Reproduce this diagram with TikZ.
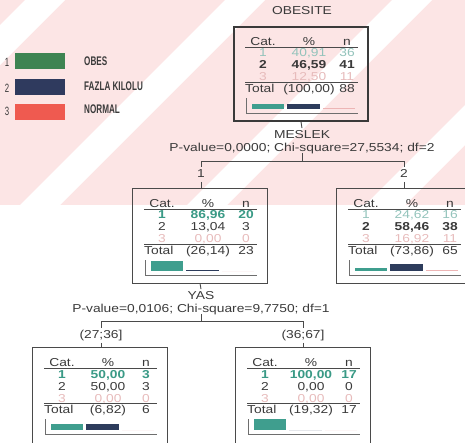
\documentclass[tikz,border=0pt]{standalone}
\usepackage{fontspec}
\setmainfont{Liberation Sans}
\newfontfamily\dfont[FakeStretch=1.2]{Liberation Sans}
\newfontfamily\nfont[FakeStretch=0.65]{Liberation Sans}
\usetikzlibrary{calc}
\definecolor{wmpink}{HTML}{FCE5E5}
\definecolor{tealbar}{HTML}{3F9E8E}
\definecolor{navybar}{HTML}{2D3C5C}
\definecolor{pinkbar}{HTML}{EDB5B5}
\definecolor{tealtxt}{HTML}{3A9A86}
\definecolor{teallt}{HTML}{93C3BB}
\definecolor{pinktxt}{HTML}{E7BBBB}
\definecolor{inkc}{HTML}{3A3A3A}
\definecolor{linec}{HTML}{4A4A4A}
\definecolor{leggreen}{HTML}{3E8452}
\definecolor{legnavy}{HTML}{2F3A5E}
\definecolor{legred}{HTML}{EF5A50}
\tikzset{
  cell/.style={font=\dfont\fontsize{11.5}{12}\selectfont, inner sep=0pt, text height=8.3pt, text depth=0pt, text=inkc},
  lbl/.style={cell, inner sep=1.5pt},
  rowA/.style={text=teallt},
  rowAb/.style={text=tealtxt, font=\dfont\bfseries\fontsize{11.5}{12}\selectfont},
  rowB/.style={text=inkc},
  rowBb/.style={text=inkc, font=\dfont\bfseries\fontsize{11.5}{12}\selectfont},
  rowC/.style={text=pinktxt},
  rule/.style={draw=linec, line width=0.8pt},
  axisl/.style={draw=linec!80, line width=0.8pt},
  conn/.style={draw=linec, line width=0.9pt},
  rootbox/.style={draw=inkc, line width=1.8pt, minimum width=134pt, minimum height=94pt, inner sep=0pt},
  tbox/.style={minimum width=134pt, minimum height=94pt, inner sep=0pt},
  boxline/.style={draw=linec, line width=0.9pt},
  legtxt/.style={font=\nfont\bfseries\fontsize{12.5}{13}\selectfont, inner sep=0pt, text height=9pt, text depth=0pt, text=inkc},
  legnum/.style={font=\nfont\fontsize{12}{13}\selectfont, inner sep=0pt, text height=8.6pt, text depth=0pt, text=inkc},
  legbox/.style={inner sep=0pt, minimum width=50pt, minimum height=16pt}
}
% table helpers (coordinates relative to the box's top-left corner)
\newcommand\tabhead[1]{%
  \node[cell] (#1h1) at (29,14) {Cat.};
  \node[cell] (#1h2) at (75,14) {\%};
  \node[cell] (#1h3) at (113,14) {n};
  \draw[rule] (11,20) -- (124,20);}
\newcommand\tabrow[6]{% prefix, cat, y, style, pct, n
  \node[cell,#4] (#1r#2a) at (29,#3) {#2};
  \node[cell,#4] (#1r#2b) at (75,#3) {#5};
  \node[cell,#4] (#1r#2c) at (113,#3) {#6};}
\newcommand\tabtotal[3]{%
  \draw[rule] (11,55.5) -- (124,55.5);
  \node[cell,anchor=west] (#1ta) at (11,61) {Total};
  \node[cell] (#1tb) at (75,61) {#2};
  \node[cell] (#1tc) at (113,61) {#3};}
\newcommand\tbars[3]{%
  \draw[axisl] (12,71) -- (12,86) -- (124,86);
  \fill[tealbar] (18,82) rectangle (50,{82-#1*0.115});
  \fill[navybar] (53,82) rectangle (86,{82-#2*0.115});
  \fill[pinkbar] (89,82) rectangle (121,{82-#3*0.08});}
\begin{document}
\begin{tikzpicture}[x=1pt,y=-1pt]
\path[use as bounding box, clip] (0,0) rectangle (465,442);
% watermark
\begin{scope}
  \clip (0,0) rectangle (465,205);
  \fill[wmpink] (0,0) rectangle (465,205);
  \foreach \c in {45,245,412,590} {
    \fill[white] ({\c-20},0) -- ({\c+20},0) -- ({\c+20-205},205) -- ({\c-20-205},205) -- cycle;
  }
\end{scope}
% legend
\node[legbox, fill=leggreen] (lg1) at (40,60.5) {};
\node[legbox, fill=legnavy] (lg2) at (40,86.5) {};
\node[legbox, fill=legred] (lg3) at (40,111.5) {};
\node[legnum] (ln1) at (7,62) {1};
\node[legnum] (ln2) at (7,88) {2};
\node[legnum] (ln3) at (7,111.5) {3};
\node[legtxt, anchor=west] (lt1) at (84,61) {OBES};
\node[legtxt, anchor=west] (lt2) at (84,85.5) {FAZLA KILOLU};
\node[legtxt, anchor=west] (lt3) at (84,109) {NORMAL};
% title
\node[lbl] (title) at (302,10) {OBESITE};
% boxes
\node[rootbox] (root) at (301,74) {};
\node[tbox] (n1) at (200,236) {};
\node[tbox, minimum width=160pt] (n2) at (417,236) {};
\node[tbox, minimum height=120pt] (n3) at (100,408) {};
\node[tbox, minimum height=120pt] (n4) at (303,408) {};
\draw[boxline] (n1.south west) rectangle (n1.north east);
\draw[boxline] (n2.north east) -- (n2.north west) -- (n2.south west) -- (n2.south east);
\draw[boxline] (n3.south west) -- (n3.north west) -- (n3.north east) -- (n3.south east);
\draw[boxline] (n4.south west) -- (n4.north west) -- (n4.north east) -- (n4.south east);
% root table
\begin{scope}[shift={(234,27)}]
  \tabhead{r}
  \tabrow{r}{1}{25.5}{rowA}{40,91}{36}
  \tabrow{r}{2}{37.5}{rowBb}{46,59}{41}
  \tabrow{r}{3}{49.5}{rowC}{12,50}{11}
  \tabtotal{r}{(100,00)}{88}
  \tbars{40.91}{46.59}{12.50}
\end{scope}
\begin{scope}[shift={(133,189)}]
  \tabhead{a}
  \tabrow{a}{1}{25.5}{rowAb}{86,96}{20}
  \tabrow{a}{2}{37.5}{rowB}{13,04}{3}
  \tabrow{a}{3}{49.5}{rowC}{0,00}{0}
  \tabtotal{a}{(26,14)}{23}
  \tbars{86.96}{13.04}{0}
\end{scope}
\begin{scope}[shift={(337,189)}]
  \tabhead{b}
  \tabrow{b}{1}{25.5}{rowA}{24,62}{16}
  \tabrow{b}{2}{37.5}{rowBb}{58,46}{38}
  \tabrow{b}{3}{49.5}{rowC}{16,92}{11}
  \tabtotal{b}{(73,86)}{65}
  \tbars{24.62}{58.46}{16.92}
\end{scope}
\begin{scope}[shift={(33,348)}]
  \tabhead{c}
  \tabrow{c}{1}{26.5}{rowAb}{50,00}{3}
  \tabrow{c}{2}{38.5}{rowB}{50,00}{3}
  \tabrow{c}{3}{50.5}{rowC}{0,00}{0}
  \tabtotal{c}{(6,82)}{6}
  \tbars{50}{50}{0}
\end{scope}
\begin{scope}[shift={(236,348)}]
  \tabhead{d}
  \tabrow{d}{1}{26.5}{rowAb}{100,00}{17}
  \tabrow{d}{2}{38.5}{rowB}{0,00}{0}
  \tabrow{d}{3}{50.5}{rowC}{0,00}{0}
  \tabtotal{d}{(19,32)}{17}
  \tbars{100}{0}{0}
\end{scope}
% first split
\node[lbl] (meslek) at (302,134) {MESLEK};
\node[lbl] (pv1) at (302,147) {P-value=0,0000; Chi-square=27,5534; df=2};
\coordinate (j1) at (302,161);
\coordinate (j1l) at (201,161);
\coordinate (j1r) at (404,161);
\node[lbl] (b1) at (201,173) {1};
\node[lbl] (b2) at (404,173) {2};
\draw[conn] (root.south) -- (meslek.north);
\draw[conn] (pv1.south) -- (j1);
\draw[conn] (j1l) -- (j1r);
\draw[conn] (j1l) -- (b1.north);
\draw[conn] (j1r) -- (b2.north);
\draw[conn] ([yshift=-3pt]b1.south) -- (b1.south |- n1.north);
\draw[conn] ([yshift=-3pt]b2.south) -- (b2.south |- n2.north);
% second split
\node[lbl] (yas) at (201,295) {YAS};
\node[lbl] (pv2) at (201,308) {P-value=0,0106; Chi-square=9,7750; df=1};
\coordinate (j2) at (201,321);
\coordinate (j2l) at (101,321);
\coordinate (j2r) at (303,321);
\node[lbl] (c1) at (101,334) {(27;36]};
\node[lbl] (c2) at (303,334) {(36;67]};
\draw[conn] (n1.south) -- (yas.north);
\draw[conn] (pv2.south) -- (j2);
\draw[conn] (j2l) -- (j2r);
\draw[conn] (j2l) -- (c1.north);
\draw[conn] (j2r) -- (c2.north);
\draw[conn] ([yshift=-3pt]c1.south) -- (c1.south |- n3.north);
\draw[conn] ([yshift=-3pt]c2.south) -- (c2.south |- n4.north);
\end{tikzpicture}
\end{document}
